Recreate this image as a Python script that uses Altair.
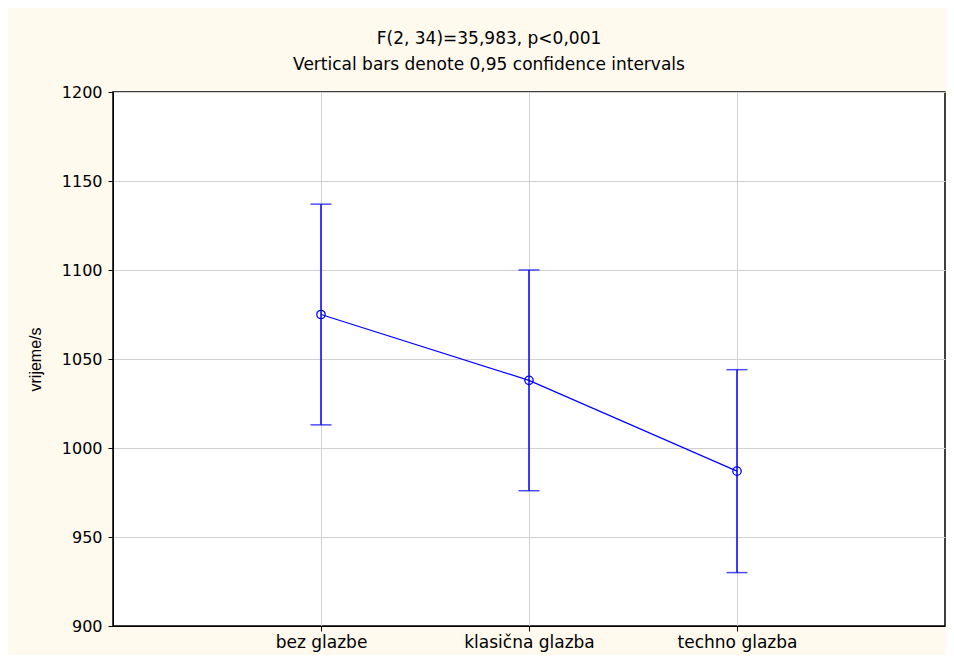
import altair as alt
import pandas as pd

categories = ["bez glazbe", "klasična glazba", "techno glazba"]
means = [1075, 1038, 987]
lower = [1013, 976, 930]
upper = [1137, 1100, 1044]
y_ticks = [900, 950, 1000, 1050, 1100, 1150, 1200]

df = pd.DataFrame({"cat": categories, "mean": means, "lo": lower, "hi": upper})

FONT = "DejaVu Sans"
FONT2 = "Liberation Sans"
BLUE = "#0000FF"

x = alt.X("cat:N", sort=categories, title=None,
          scale=alt.Scale(type="point", padding=1),
          axis=alt.Axis(labelAngle=0, labelFontSize=17, labelPadding=3, labelColor="black",
                        domainColor="black", tickColor="black", tickSize=5,
                        grid=True, gridColor="#d0d0d0", labelFont=FONT))
yscale = alt.Scale(domain=[900, 1200], nice=False, zero=False)
yaxis = alt.Axis(values=y_ticks, format="d", labelFontSize=16,
                 labelFont=FONT, labelColor="black", domainColor="black", tickColor="black",
                 tickSize=5, labelPadding=6, grid=True, gridColor="#d0d0d0",
                 titleFont=FONT2, titleFontSize=16, titleFontWeight="normal", titleColor="black",
                 titlePadding=18)

base = alt.Chart(df)

rule = base.mark_rule(color=BLUE, strokeWidth=1.5).encode(
    x=x, y=alt.Y("lo:Q", scale=yscale, axis=yaxis, title="vrijeme/s"), y2="hi:Q")
cap_lo = base.mark_tick(color=BLUE, size=21, thickness=1.5).encode(x=x, y=alt.Y("lo:Q", scale=yscale))
cap_hi = base.mark_tick(color=BLUE, size=21, thickness=1.5).encode(x=x, y=alt.Y("hi:Q", scale=yscale))
line = base.mark_line(color=BLUE, strokeWidth=1.2).encode(x=x, y=alt.Y("mean:Q", scale=yscale))
pts = base.mark_point(color=BLUE, size=70, strokeWidth=1.3, filled=False, opacity=1).encode(
    x=x, y=alt.Y("mean:Q", scale=yscale))

chart = alt.layer(rule, cap_lo, cap_hi, line, pts).properties(
    width=832, height=534,
    title=alt.TitleParams(text="F(2, 34)=35,983, p<0,001",
                          subtitle="Vertical bars denote 0,95 confidence intervals",
                          font=FONT, fontSize=17, fontWeight="normal", color="black",
                          subtitleFont=FONT, subtitleFontSize=17, subtitleColor="black",
                          subtitlePadding=9, anchor="middle", offset=10, dx=-40),
    autosize=alt.AutoSizeParams(type="none"),
    padding={"left": 105, "top": 84, "right": 1, "bottom": 29},
    background="#FFF9EE",
).configure_view(stroke="black", strokeWidth=1.5, fill="white")

chart.save("out.html", embed_options={"renderer": "svg", "actions": False})
